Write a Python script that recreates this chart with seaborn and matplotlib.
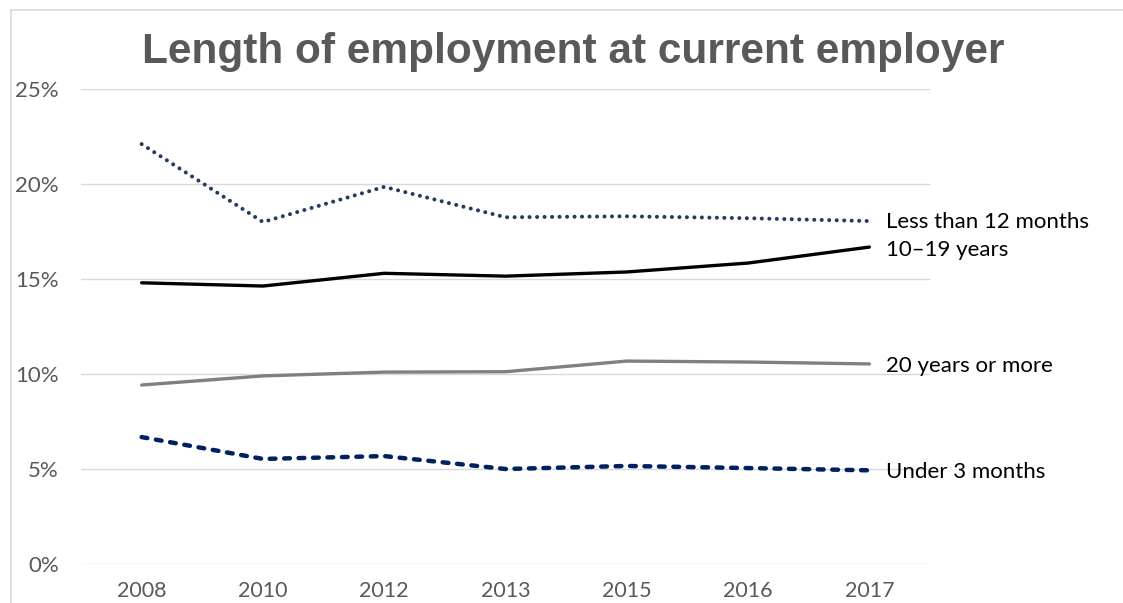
import matplotlib
matplotlib.use("Agg")
import matplotlib.pyplot as plt
import seaborn as sns
import pandas as pd
from matplotlib.patches import Rectangle

years = ["2008", "2010", "2012", "2013", "2015", "2016", "2017"]
less_12_months = [22.1, 18.0, 19.85, 18.25, 18.3, 18.2, 18.05]
years_10_19 = [14.8, 14.63, 15.3, 15.15, 15.37, 15.84, 16.68]
years_20_plus = [9.42, 9.9, 10.1, 10.12, 10.68, 10.63, 10.53]
under_3_months = [6.68, 5.53, 5.68, 5.0, 5.16, 5.05, 4.93]

series_names = ["Less than 12 months", "10–19 years", "20 years or more", "Under 3 months"]
series_values = [less_12_months, years_10_19, years_20_plus, under_3_months]
colors = ["#233B5E", "#000000", "#808080", "#002060"]
widths = [2.9, 2.4, 2.4, 3.2]
styles = [(0, (0.01, 1.85)), "-", "-", (0, (1.3, 1.95))]
label_offsets = [-0.05, -0.15, -0.1, -0.1]

sns.set_theme(style="white")
plt.rcParams["font.family"] = ["Lato", "DejaVu Sans"]

fig = plt.figure(figsize=(11.23, 6.03), dpi=100)
ax = fig.add_axes([81 / 1123, 1 - 564 / 603, (930 - 81) / 1123, (564 - 89) / 603])

fig.patches.append(Rectangle((11 / 1123, -0.01), 1.2, 1 - 9.5 / 603 + 0.01,
                             transform=fig.transFigure, fill=False,
                             edgecolor="#d9d9d9", linewidth=1.2))

x = list(range(len(years)))
for name, vals, c, lw, ls, off in zip(series_names, series_values, colors, widths, styles, label_offsets):
    df = pd.DataFrame({"x": x, "y": vals})
    sns.lineplot(data=df, x="x", y="y", ax=ax, color=c, linewidth=lw)
    ln = ax.lines[-1]
    ln.set_linestyle(ls)
    ln.set_dash_capstyle("round")
    ln.set_solid_capstyle("round")
    ln.set_solid_joinstyle("round")
    ax.text(x[-1] + 0.14, vals[-1] + off, name, va="center", ha="left",
            fontsize=16, color="#000000", clip_on=False)

ax.set_xlim(-0.5, 6.5)
ax.set_ylim(0, 25)
ax.set_yticks([0, 5, 10, 15, 20, 25])
ax.set_yticklabels([f"{v}%" for v in [0, 5, 10, 15, 20, 25]])
ax.set_xticks(x)
ax.set_xticklabels(years)
ax.tick_params(axis="both", length=0, labelsize=16, labelcolor="#595959")
ax.tick_params(axis="y", pad=16)
ax.tick_params(axis="x", pad=12, labelsize=15.5)
ax.yaxis.grid(True, color="#d9d9d9", linewidth=1)
ax.xaxis.grid(False)
for s in ax.spines.values():
    s.set_visible(False)
ax.set_xlabel("")
ax.set_ylabel("")

fig.text(573 / 1123, 1 - 63 / 603, "Length of employment at current employer",
         ha="center", va="baseline", fontsize=30.5, fontweight="bold",
         color="#595959", family=["Liberation Sans", "DejaVu Sans"])

fig.savefig("out.png", dpi=100)
